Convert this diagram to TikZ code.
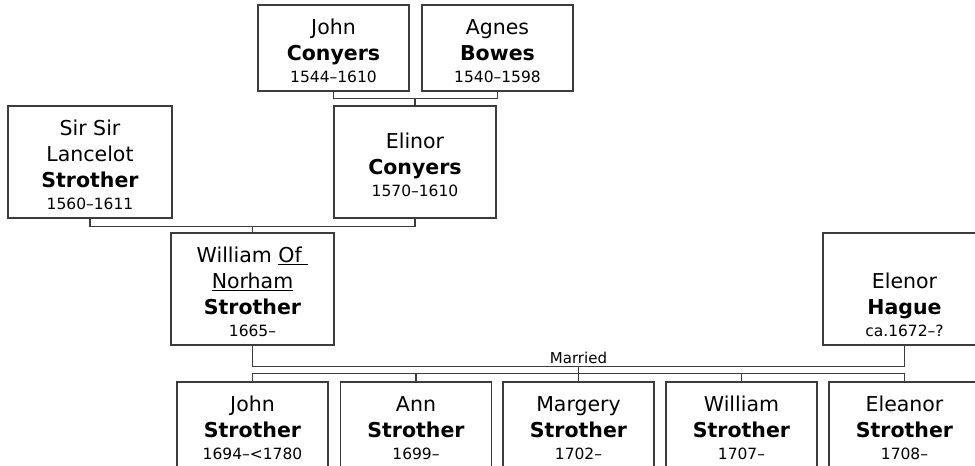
\documentclass[tikz,border=0pt]{standalone}
\usepackage{fontspec}
\setmainfont{DejaVu Sans}
\usepackage{tikz}
\usetikzlibrary{calc}
\definecolor{lineg}{HTML}{3C3C3C}

\tikzset{
  person/.style={draw=lineg, line width=1.3pt, fill=white, align=center, inner sep=0pt,
    font=\fontsize{20.5}{26}\selectfont},
  couple/.style={person, minimum width=151pt, minimum height=86pt},
  parent/.style={person, minimum width=163pt, minimum height=112pt},
  link/.style={draw=lineg, line width=1.3pt}
}
% given name(s), surname, years
\newcommand{\who}[3]{\rule{0pt}{21.5pt}#1\\\textbf{#2}\\[-4pt]{\fontsize{15.5}{18}\selectfont #3}}

\begin{document}
\begin{tikzpicture}[x=1pt, y=-1pt]
\useasboundingbox (0,0) rectangle (975,466);
\clip (0,0) rectangle (975,466);
% grandparents
\node[couple] (jconyers) at (333.5,48) {\who{John}{Conyers}{1544–1610}};
\node[couple] (abowes) at (497.5,48) {\who{Agnes}{Bowes}{1540–1598}};
% parents
\node[parent, minimum width=164pt] (lstrother) at (90,162) {\who{Sir Sir\\Lancelot}{Strother}{1560–1611}};
\node[parent, minimum width=162pt] (econyers) at (415,162) {\who{Elinor}{Conyers}{1570–1610}};
% the couple
\node[parent] (wstrother) at (252.5,289) {\who{William \underline{Of\ }\\\underline{Norham}}{Strother}{1665–}};
\node[parent] (ehague) at (904.5,289) {\who{\rule{0pt}{48pt}Elenor}{Hague}{ca.1672–?}};
% children
\node[couple] (cjohn) at (252.5,425) {\who{John}{Strother}{1694–<1780}};
\node[couple] (cann) at (416,425) {\who{Ann}{Strother}{1699–}};
\node[couple] (cmargery) at (578.5,425) {\who{Margery}{Strother}{1702–}};
\node[couple] (cwilliam) at (741.5,425) {\who{William}{Strother}{1707–}};
\node[couple] (celeanor) at (904.5,425) {\who{Eleanor}{Strother}{1708–}};

% connectors
\draw[link] (jconyers.south) -- ++(0,7) coordinate (jcbar) -| (abowes.south);
\draw[link] (econyers.north) -- (econyers.north |- jcbar);
\draw[link] (lstrother.south) -- ++(0,8) coordinate (lsbar) -| (econyers.south);
\draw[link] (wstrother.north) -- (wstrother.north |- lsbar);
\draw[link] (wstrother.south) -- ++(0,21) coordinate (mbar) -| (ehague.south);
\node[font=\fontsize{15}{16}\selectfont, above, inner sep=3pt] (married)
  at ($(wstrother.south |- mbar)!0.5!(ehague.south |- mbar)$) {Married};
\draw[link] (cjohn.north) -- ++(0,-8) coordinate (cbar) -| (celeanor.north);
\draw[link] (cann.north) -- (cann.north |- cbar);
\draw[link] (cmargery.north) -- (cmargery.north |- mbar);
\draw[link] (cwilliam.north) -- (cwilliam.north |- cbar);
\end{tikzpicture}
\end{document}
